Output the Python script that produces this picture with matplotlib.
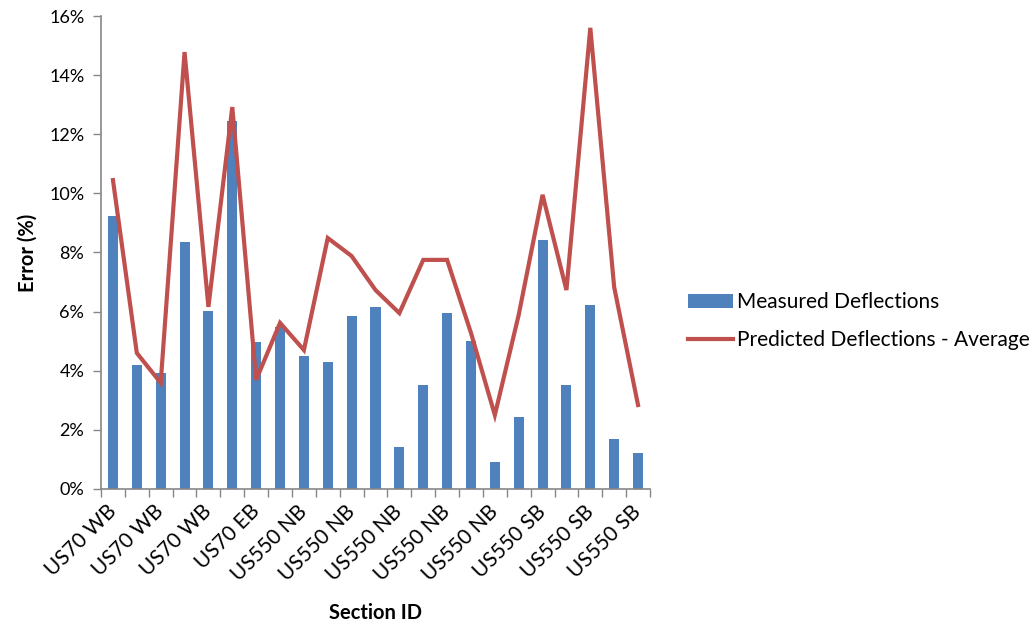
import matplotlib
matplotlib.use("Agg")
import matplotlib.pyplot as plt
import numpy as np
from matplotlib.ticker import FuncFormatter

plt.rcParams['font.family'] = ['Lato', 'DejaVu Sans']

# Section IDs for each test section (23 sections)
sections = (["US70 WB"] * 6 + ["US70 EB"] * 2 + ["US550 NB"] * 10 + ["US550 SB"] * 5)

# Error (%) per section
measured = [9.24, 4.19, 3.92, 8.36, 6.02, 12.45, 4.97, 5.48, 4.50, 4.30, 5.85, 6.16,
            1.42, 3.52, 5.95, 5.01, 0.91, 2.44, 8.42, 3.52, 6.22, 1.69, 1.22]
predicted_avg = [10.45, 4.60, 3.59, 14.78, 6.16, 12.92, 3.69, 5.62, 4.70, 8.49, 7.88, 6.73,
                 5.95, 7.75, 7.75, 5.28, 2.50, 5.89, 9.95, 6.73, 15.60, 6.83, 2.84]

bar_color = "#4F81BD"
line_color = "#C0504D"
axis_grey = "#868686"

fig = plt.figure(figsize=(10.34, 6.21), dpi=100)
ax = fig.add_axes([0.0977, 0.2126, 0.5309, 0.7616])

x = np.arange(len(sections))
bars = ax.bar(x, measured, width=0.42, color=bar_color, label="Measured Deflections", zorder=2)
line, = ax.plot(x, predicted_avg, color=line_color, linewidth=3, label="Predicted Deflections - Average",
                zorder=3, solid_joinstyle="miter")

ax.set_xlim(-0.5, len(sections) - 0.5)
ax.set_ylim(0, 16)
ax.set_yticks(np.arange(0, 17, 2))
ax.yaxis.set_major_formatter(FuncFormatter(lambda v, p: f"{v:.0f}%"))

# category labels on every other section, boundary ticks between sections
ax.set_xticks(x[::2])
ax.set_xticklabels([sections[i] for i in x[::2]], rotation=45, ha="right", va="center",
                   rotation_mode="anchor", fontsize=15)
ax.set_xticks(np.arange(-0.5, len(sections), 1.0), minor=True)
ax.tick_params(axis="x", which="major", length=0, pad=14)
ax.tick_params(axis="x", which="minor", length=6, color=axis_grey, width=1)
ax.tick_params(axis="y", length=6, color=axis_grey, width=1, labelsize=13, pad=6)

for s in ("top", "right"):
    ax.spines[s].set_visible(False)
for s in ("left", "bottom"):
    ax.spines[s].set_color(axis_grey)
    ax.spines[s].set_linewidth(1.2)

ax.set_ylabel("Error (%)", fontsize=14.5, fontweight="bold", labelpad=8)
ax.set_xlabel("Section ID", fontsize=14.5, fontweight="bold", labelpad=13)

fig.legend(handles=[bars, line], loc="center left", bbox_to_anchor=(0.665, 0.483),
           frameon=False, fontsize=15, handlelength=2.2, handletextpad=0.15,
           labelspacing=0.85, borderaxespad=0, borderpad=0)

fig.savefig("out.png", dpi=100)
